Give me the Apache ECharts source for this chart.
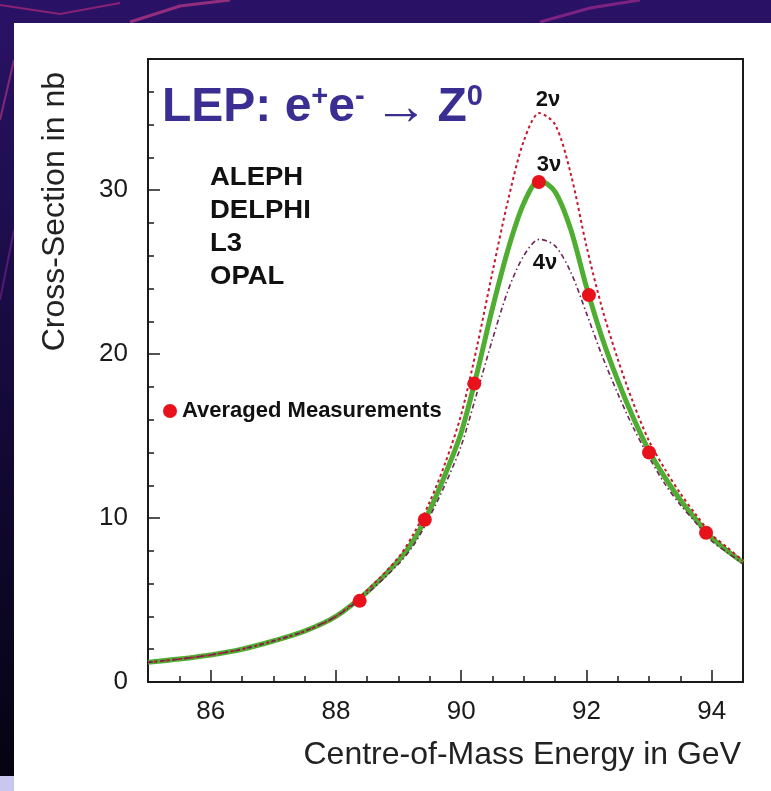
<!DOCTYPE html>
<html><head><meta charset="utf-8">
<script src="https://cdn.jsdelivr.net/npm/echarts@6/dist/echarts.min.js"></script>
<style>html,body{margin:0;padding:0;background:#fff}#c{width:771px;height:791px}</style>
</head><body><div id="c"></div>
<script>
// ---- data ----
const energyGrid = [85,85.5,86,86.5,87,87.5,88,88.5,89,89.25,89.5,89.75,90,90.25,90.5,90.75,91,91.25,91.5,91.75,92,92.25,92.5,92.75,93,93.25,93.5,93.75,94,94.25,94.5];
const sigma3nu = [1.2,1.4,1.65,2.0,2.5,3.1,4.0,5.5,7.4,8.7,10.5,12.7,15.2,18.8,22.8,26.4,29.2,30.6,29.9,27.6,24.1,21.0,18.4,16.1,14.1,12.5,11.1,9.9,8.8,8.0,7.3];
const sigma2nu = [1.2,1.4,1.65,2.0,2.5,3.1,4.0,5.6,7.6,9.1,11.0,13.4,16.3,20.4,25.0,29.4,33.0,34.7,34.0,31.0,26.6,22.8,19.7,17.0,14.7,13.0,11.5,10.2,9.0,8.2,7.4];
const sigma4nu = [1.2,1.4,1.65,2.0,2.5,3.1,4.0,5.4,7.2,8.4,10.1,12.1,14.4,17.6,20.9,23.9,26.0,27.0,26.6,25.0,22.5,19.9,17.6,15.5,13.7,12.1,10.8,9.7,8.6,7.9,7.2];
const measEnergy = [88.38,89.42,90.21,91.24,92.04,93.00,93.91];
const measSigma = [4.95,9.9,18.2,30.5,23.6,14.0,9.1];
const xMajorTicks = [86,88,90,92,94];
const yMajorTicks = [0,10,20,30];
const experiments = ['ALEPH','DELPHI','L3','OPAL'];

const FF = '"Liberation Sans", Arial, Helvetica, sans-serif';
const pairs = (xs, ys) => xs.map((x, i) => [x, ys[i]]);

const chart = echarts.init(document.getElementById('c'), null, {renderer: 'canvas'});

const bg = [
  {type:'rect', z:-100, shape:{x:0,y:0,width:771,height:791},
   style:{fill:new echarts.graphic.LinearGradient(0,0,0,1,[{offset:0,color:'#2a1266'},{offset:0.5,color:'#140a3a'},{offset:1,color:'#050310'}])}},
  {type:'polyline', z:-99, shape:{points:[[0,5],[60,14],[120,3]]}, style:{stroke:'#b02a7a',lineWidth:2,fill:null,opacity:0.7}},
  {type:'polyline', z:-99, shape:{points:[[130,22],[180,6],[230,0]]}, style:{stroke:'#c03a8a',lineWidth:3,fill:null,opacity:0.7}},
  {type:'polyline', z:-99, shape:{points:[[540,22],[590,8],[640,0]]}, style:{stroke:'#a02a90',lineWidth:3,fill:null,opacity:0.7}},
  {type:'polyline', z:-99, shape:{points:[[0,120],[14,60]]}, style:{stroke:'#c03a8a',lineWidth:2,fill:null,opacity:0.6}},
  {type:'polyline', z:-99, shape:{points:[[0,300],[14,230]]}, style:{stroke:'#8a2a9a',lineWidth:2,fill:null,opacity:0.5}},
  {type:'rect', z:-98, shape:{x:14,y:23,width:757,height:768}, style:{fill:'#ffffff'}},
  {type:'rect', z:-98, shape:{x:0,y:776,width:14,height:15}, style:{fill:'#c9c6ef'}}
];

const texts = [
  {type:'text', z:50, x:162, y:82, style:{
    text:'{a|LEP: e}{s|+}{a|e}{s|-}{p| }{r|→}{p| }{a|Z}{s|0}',
    verticalAlign:'top',
    rich:{
      a:{fontSize:48, fontWeight:'bold', fontFamily:FF, fill:'#3a2e93', lineHeight:52},
      p:{fontSize:34, fontFamily:FF, fill:'#3a2e93', lineHeight:52},
      r:{fontSize:54, fontWeight:'normal', fontFamily:FF, fill:'#3a2e93', lineHeight:46, verticalAlign:'top'},
      s:{fontSize:29, fontWeight:'bold', fontFamily:FF, fill:'#3a2e93', lineHeight:30, verticalAlign:'top'}
    }}},
  ...experiments.map((t, i) => ({type:'text', z:50, x:210, y:178 + i*33, scaleX:1.1,
    style:{text:t, fontSize:25, fontWeight:'bold', fontFamily:FF, fill:'#111', verticalAlign:'middle', align:'left'}})),
  {type:'text', z:50, x:548, y:100, style:{text:'2ν', fontSize:22, fontWeight:'bold', fontFamily:FF, fill:'#111', align:'center', verticalAlign:'middle'}},
  {type:'text', z:50, x:549, y:165, style:{text:'3ν', fontSize:22, fontWeight:'bold', fontFamily:FF, fill:'#111', align:'center', verticalAlign:'middle'}},
  {type:'text', z:50, x:545, y:263, style:{text:'4ν', fontSize:22, fontWeight:'bold', fontFamily:FF, fill:'#111', align:'center', verticalAlign:'middle'}},
  {type:'text', z:50, x:55, y:72, rotation:Math.PI/2, style:{text:'Cross-Section in nb', fontSize:32, fontFamily:FF, fill:'#222', align:'right', verticalAlign:'middle'}},
  {type:'text', z:50, x:741, y:755, style:{text:'Centre-of-Mass Energy in GeV', fontSize:32, fontFamily:FF, fill:'#222', align:'right', verticalAlign:'middle'}}
];

const option = {
  animation:false,
  backgroundColor:'transparent',
  graphic:{elements:[...bg, ...texts]},
  legend:{data:['Averaged Measurements'], icon:'circle', itemWidth:14, itemHeight:14, left:163, top:400, padding:0,
    selectedMode:false, textStyle:{fontSize:22, fontWeight:'bold', color:'#111', fontFamily:FF}},
  grid:{left:148, top:59, right:28, bottom:109, show:true, borderColor:'#1a1a1a', borderWidth:2, backgroundColor:'transparent', outerBoundsMode:'none'},
  xAxis:[
    {type:'value', min:85, max:94.5, position:'bottom', axisLine:{show:false}, splitLine:{show:false},
     axisTick:{inside:true, length:12, customValues:xMajorTicks, lineStyle:{color:'#1a1a1a', width:1.5}},
     axisLabel:{customValues:xMajorTicks, fontSize:26, color:'#1a1a1a', fontFamily:FF, margin:17}},
    {type:'value', min:85, max:94.5, interval:0.5, position:'bottom', axisLine:{show:false}, splitLine:{show:false},
     axisTick:{inside:true, length:6, lineStyle:{color:'#1a1a1a', width:1.5}}, axisLabel:{show:false}}
  ],
  yAxis:[
    {type:'value', min:0, max:38, position:'left', axisLine:{show:false}, splitLine:{show:false},
     axisTick:{inside:true, length:12, customValues:yMajorTicks, lineStyle:{color:'#1a1a1a', width:1.5}},
     axisLabel:{customValues:yMajorTicks, fontSize:26, color:'#1a1a1a', fontFamily:FF, margin:20}},
    {type:'value', min:0, max:38, interval:2, position:'left', axisLine:{show:false}, splitLine:{show:false},
     axisTick:{inside:true, length:6, lineStyle:{color:'#1a1a1a', width:1.5}}, axisLabel:{show:false}}
  ],
  series:[
    {type:'line', name:'3ν', xAxisIndex:0, yAxisIndex:0, data:pairs(energyGrid, sigma3nu), smooth:0.3, showSymbol:false, z:2,
     lineStyle:{color:'#4fae32', width:5}},
    {type:'line', name:'2ν', xAxisIndex:0, yAxisIndex:0, data:pairs(energyGrid, sigma2nu), smooth:0.3, showSymbol:false, z:3,
     lineStyle:{color:'#c8162e', width:2, type:[3,3]}},
    {type:'line', name:'4ν', xAxisIndex:0, yAxisIndex:0, data:pairs(energyGrid, sigma4nu), smooth:0.3, showSymbol:false, z:3,
     lineStyle:{color:'#6e2457', width:1.6, type:[5,3,1.5,3]}},
    {type:'scatter', name:'Averaged Measurements', xAxisIndex:0, yAxisIndex:0, data:pairs(measEnergy, measSigma), symbolSize:14, z:4,
     itemStyle:{color:'#e8121c', opacity:1}}
  ]
};
chart.setOption(option);
</script></body></html>
